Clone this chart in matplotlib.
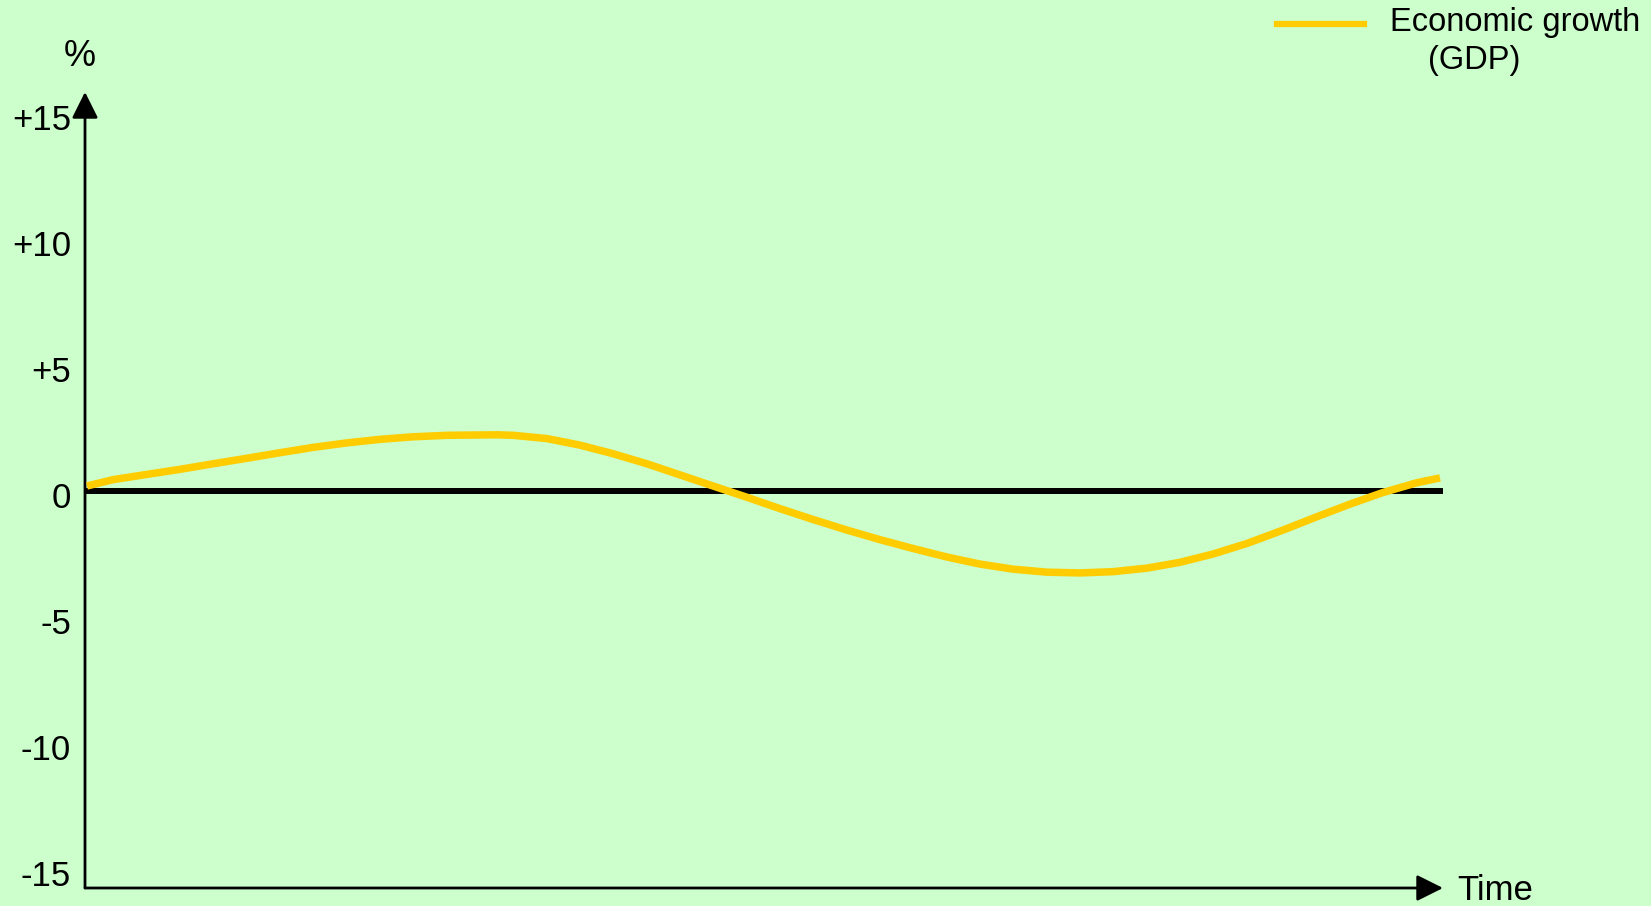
import matplotlib
matplotlib.use('Agg')
import matplotlib.pyplot as plt
import matplotlib.transforms as mtransforms

plt.rcParams['font.family'] = ['Liberation Sans', 'DejaVu Sans']

# time in % of the drawn span, growth in %
time = [0.15, 2.06, 4.57, 7.0, 9.43, 11.93, 14.36, 16.79, 19.29, 21.72, 24.15,
        26.66, 30.34, 31.52, 34.02, 36.45, 38.88, 41.38, 43.81, 46.24, 48.75,
        51.18, 53.61, 56.11, 58.54, 60.97, 63.48, 65.91, 68.34, 70.84, 73.27,
        75.70, 78.20, 80.63, 83.06, 85.57, 88.22, 90.72, 93.15, 95.58, 98.09, 99.78]
gdp = [0.20, 0.45, 0.66, 0.86, 1.08, 1.30, 1.52, 1.73, 1.91, 2.05, 2.15,
       2.21, 2.23, 2.21, 2.08, 1.82, 1.48, 1.08, 0.64, 0.20, -0.25,
       -0.70, -1.13, -1.55, -1.93, -2.28, -2.62, -2.90, -3.10, -3.22, -3.25,
       -3.20, -3.06, -2.83, -2.50, -2.08, -1.55, -1.02, -0.52, -0.06, 0.33, 0.52]

yticks = [15, 10, 5, 0, -5, -10, -15]
ytick_labels = ['+15', '+10', '+5', '0', '-5', '-10', '-15']

bg = '#CCFFCC'
W, H = 1651, 906
fig = plt.figure(figsize=(W / 100, H / 100), dpi=100, facecolor=bg)
ax = fig.add_axes([85 / W, 18 / H, (1443 - 85) / W, (888 - 92) / H])
ax.set_facecolor(bg)
ax.set_xlim(0, 100)
ax.set_ylim(-15.75, 15.83)
for s in ax.spines.values():
    s.set_visible(False)
ax.set_xticks([])
ax.set_yticks(yticks)
ax.set_yticklabels(ytick_labels, fontsize=25)
ax.tick_params(axis='y', length=0, pad=10)
shift = mtransforms.ScaledTranslation(0, -4 / 100, fig.dpi_scale_trans)
for lab in ax.get_yticklabels():
    lab.set_transform(lab.get_transform() + shift)

# axes with arrow heads
arrow = dict(arrowstyle='-|>', lw=2, color='black', mutation_scale=40, shrinkA=0, shrinkB=0)
ax.annotate('', xy=(0, 1), xytext=(0, 0), xycoords='axes fraction', arrowprops=arrow)
ax.annotate('', xy=(1, 0), xytext=(0, 0), xycoords='axes fraction', arrowprops=arrow)

ax.axhline(0, color='black', lw=4.3, zorder=2)
ax.plot(time, gdp, color='#FFCC00', lw=5.4, solid_capstyle='butt',
        solid_joinstyle='round', clip_on=False, zorder=3)

fig.text(80 / W, 1 - 57 / H, '%', fontsize=26, ha='center', va='center')
fig.text(1457 / W, 1 - 900 / H, 'Time', fontsize=25, ha='left', va='baseline')

# legend drawn by hand
fig.add_artist(plt.Line2D([1277 / W, 1364 / W], [1 - 24 / H, 1 - 24 / H],
                          color='#FFCC00', lw=4.5))
fig.text(1390 / W, 1 - 23 / H, 'Economic growth', fontsize=23.5, ha='left', va='center')
fig.text(1428 / W, 1 - 60 / H, '(GDP)', fontsize=23.5, ha='left', va='center')

plt.savefig('out.png', dpi=100, facecolor=bg)
